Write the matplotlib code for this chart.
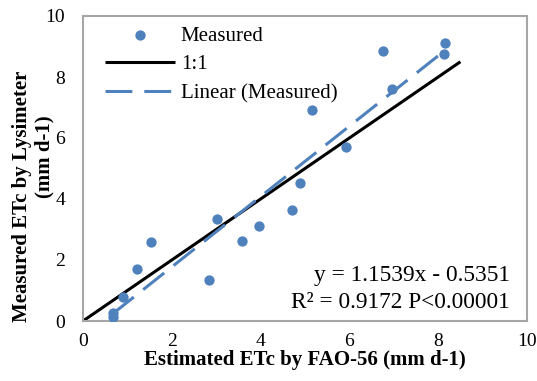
import matplotlib
matplotlib.use("Agg")
import matplotlib.pyplot as plt
import numpy as np

est = [8.15, 8.14, 6.75, 6.97, 5.16, 5.92, 4.89, 4.71, 3.97, 3.02, 3.57, 1.53, 1.21, 2.84, 0.91, 0.68, 0.67]
meas = [9.10, 8.74, 8.85, 7.60, 6.93, 5.69, 4.53, 3.63, 3.13, 3.36, 2.61, 2.59, 1.72, 1.35, 0.78, 0.27, 0.13]
one_to_one = [0, 8.5]
slope, intercept = 1.1539, -0.5351
ticks = [0, 2, 4, 6, 8, 10]

plt.rcParams['font.family'] = ['Liberation Serif', 'DejaVu Serif']

W, H = 537, 381
fig = plt.figure(figsize=(W / 100, H / 100), dpi=100)
ax = fig.add_axes([83 / W, 1 - 321 / H, 444 / W, 305 / H])

blue = '#4F81BD'
ax.scatter(est, meas, s=55, color=blue, zorder=3, label='Measured', linewidths=0)
ax.plot(one_to_one, one_to_one, color='black', lw=2.2, label='1:1', solid_capstyle='butt')
xf = np.array([min(est), max(est)])
ax.plot(xf, slope * xf + intercept, color=blue, lw=2.2, dashes=(8.8, 3.9), label='Linear (Measured)')

ax.set_xlim(0, 10)
ax.set_ylim(0, 10)
ax.set_xticks(ticks)
ax.set_yticks(ticks)
ax.tick_params(length=0, labelsize=14)
ax.tick_params(axis='x', pad=9)
ax.tick_params(axis='y', pad=13)
for s in ax.spines.values():
    s.set_color('#A6A6A6')
    s.set_linewidth(1.5)

ax.set_xlabel('Estimated ETc by FAO-56 (mm d-1)', fontsize=15, fontweight='bold', labelpad=0)
fig.text(22 / W, 1 - 196 / H, 'Measured ETc by Lysimeter', rotation=90, fontsize=15,
         fontweight='bold', ha='center', va='center')
fig.text(44 / W, 1 - 157 / H, '(mm d-1)', rotation=90, fontsize=15,
         fontweight='bold', ha='center', va='center')

ax.legend(loc='upper left', frameon=False, fontsize=15, handlelength=3.35,
          bbox_to_anchor=(105 / W, 1 - 26 / H), bbox_transform=fig.transFigure,
          borderaxespad=0, borderpad=0, labelspacing=0.44, handletextpad=0.29)

ax.text(0.962, 0.105, 'y = 1.1539x - 0.5351\nR² = 0.9172 P<0.00001', transform=ax.transAxes,
        ha='right', va='center', fontsize=16.8, linespacing=1.35)

fig.savefig('out.png', dpi=100)
